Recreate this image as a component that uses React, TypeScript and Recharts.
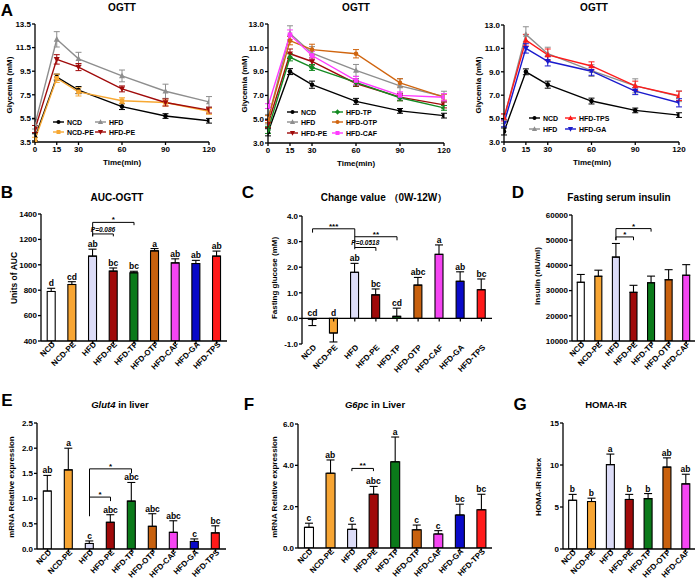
import React from 'react';
import { ComposedChart, Line, Bar, XAxis, YAxis, ErrorBar, ReferenceLine, LabelList, Cell } from 'recharts';

const FONT = '"Liberation Sans", Arial, Helvetica, sans-serif';

// ---------------- Panel A : OGTT ----------------
const timePoints = [0, 15, 30, 60, 90, 120];
const ticksA1 = [3.5, 5.5, 7.5, 9.5, 11.5, 13.5];
const ticksA23 = [3, 5, 7, 9, 11, 13];

const ncdGly = [3.9, 9.0, 7.9, 6.5, 5.7, 5.3];
const ncdGlyErr = [0.3, 0.25, 0.3, 0.25, 0.2, 0.2];
const ncdPeGly = [3.7, 8.9, 7.75, 7.0, 6.85, 6.1];
const ncdPeGlyErr = [0.2, 0.35, 0.35, 0.25, 0.3, 0.25];
const hfdGly = [5.0, 12.2, 10.55, 9.1, 7.8, 6.9];
const hfdGlyErr = [0.4, 0.65, 0.55, 0.5, 0.6, 0.45];
const hfdPeGly = [4.6, 10.5, 9.85, 8.0, 6.85, 6.2];
const hfdPeGlyErr = [0.3, 0.4, 0.3, 0.25, 0.3, 0.25];
const hfdTpGly = [4.1, 10.2, 9.35, 8.1, 6.8, 5.95];
const hfdTpGlyErr = [0.3, 0.3, 0.25, 0.3, 0.25, 0.2];
const hfdOtpGly = [5.0, 11.6, 10.85, 10.5, 8.05, 6.85];
const hfdOtpGlyErr = [0.3, 0.35, 0.45, 0.35, 0.35, 0.25];
const hfdCafGly = [6.1, 12.1, 10.35, 8.25, 7.0, 6.85];
const hfdCafGlyErr = [0.2, 0.4, 0.35, 0.35, 0.3, 0.3];
const hfdTpsGly = [5.1, 11.7, 10.45, 9.5, 7.8, 6.95];
const hfdTpsGlyErr = [0.3, 0.5, 0.5, 0.35, 0.4, 0.4];
const hfdGaGly = [4.6, 11.0, 9.9, 9.05, 7.35, 6.35];
const hfdGaGlyErr = [0.3, 0.4, 0.4, 0.35, 0.3, 0.35];

// ---------------- Bar panels ----------------
const groups9 = ['NCD', 'NCD-PE', 'HFD', 'HFD-PE', 'HFD-TP', 'HFD-OTP', 'HFD-CAF', 'HFD-GA', 'HFD-TPS'];
const groups7 = ['NCD', 'NCD-PE', 'HFD', 'HFD-PE', 'HFD-TP', 'HFD-OTP', 'HFD-CAF'];
const barColors = ['#FFFFFF', '#F7A533', '#DCDCF7', '#A00A0A', '#0B7A1A', '#C8610E', '#F545F2', '#0A0AC8', '#FF1A1A'];

const aucValues = [790, 845, 1068, 950, 937, 1110, 1015, 1010, 1068];
const aucErr = [25, 22, 55, 25, 12, 18, 32, 25, 40];
const aucLetters = ['d', 'cd', 'ab', 'bc', 'bc', 'a', 'ab', 'ab', 'ab'];
const aucTicks = [400, 600, 800, 1000, 1200, 1400];

const changeValues = [-0.03, -0.57, 1.8, 0.92, 0.08, 1.3, 2.5, 1.45, 1.12];
const changeErr = [0.25, 0.35, 0.35, 0.23, 0.32, 0.3, 0.37, 0.37, 0.42];
const changeLetters = ['cd', 'd', 'ab', 'bc', 'cd', 'abc', 'a', 'ab', 'bc'];
const changeTicks = [-1, 0, 1, 2, 3, 4];

const insulinValues = [33300, 35700, 43300, 29300, 33100, 34300, 36100];
const insulinErr = [3100, 2400, 5400, 2800, 2650, 4000, 4200];
const insulinTicks = [10000, 20000, 30000, 40000, 50000, 60000];

const glut4Values = [1.15, 1.57, 0.11, 0.53, 0.95, 0.45, 0.33, 0.15, 0.32];
const glut4Err = [0.31, 0.43, 0.05, 0.15, 0.37, 0.25, 0.23, 0.05, 0.14];
const glut4Letters = ['ab', 'a', 'c', 'abc', 'abc', 'abc', 'abc', 'c', 'bc'];
const glut4Ticks = [0, 0.5, 1, 1.5, 2, 2.5];

const g6pcValues = [1.0, 3.62, 0.9, 2.6, 4.17, 0.88, 0.68, 1.6, 1.85];
const g6pcErr = [0.2, 0.64, 0.25, 0.38, 1.2, 0.23, 0.16, 0.52, 0.75];
const g6pcLetters = ['c', 'ab', 'c', 'abc', 'a', 'c', 'c', 'bc', 'bc'];
const g6pcTicks = [0, 2, 4, 6];

const homaValues = [5.8, 5.65, 10.05, 5.9, 6.0, 9.75, 7.75];
const homaErr = [0.7, 0.4, 1.25, 0.6, 0.6, 1.1, 1.15];
const homaLetters = ['b', 'b', 'a', 'b', 'b', 'ab', 'ab'];
const homaTicks = [0, 5, 10, 15];

type Bracket = { a: string; b: string; y: number; la: number; lb: number; text: string; italicP?: boolean };
const aucBrackets: Bracket[] = [
  { a: 'HFD', b: 'HFD-TP', y: 1334, la: 1224, lb: 1312, text: '*' },
  { a: 'HFD', b: 'HFD-PE', y: 1243, la: 1224, lb: 1224, text: 'P=0.086', italicP: true },
];
const changeBrackets: Bracket[] = [
  { a: 'NCD', b: 'HFD', y: 3.5, la: 3.35, lb: 2.7, text: '***' },
  { a: 'HFD', b: 'HFD-TP', y: 3.19, la: 3.19, lb: 3.05, text: '**' },
  { a: 'HFD', b: 'HFD-PE', y: 2.77, la: 2.77, lb: 2.64, text: 'P=0.0518', italicP: true },
];
const insulinBrackets: Bracket[] = [
  { a: 'HFD', b: 'HFD-TP', y: 54600, la: 50000, lb: 53400, text: '*' },
  { a: 'HFD', b: 'HFD-PE', y: 51300, la: 50000, lb: 50000, text: '*' },
];
const glut4Brackets: Bracket[] = [
  { a: 'HFD', b: 'HFD-TP', y: 1.59, la: 0.65, lb: 1.5, text: '*' },
  { a: 'HFD', b: 'HFD-PE', y: 1.03, la: 1.03, lb: 0.95, text: '*' },
];
const g6pcBrackets: Bracket[] = [
  { a: 'HFD', b: 'HFD-PE', y: 3.85, la: 3.72, lb: 3.72, text: '**' },
];

// ---------------- helpers ----------------
type Frame = { x0: number; y0: number; x1: number; y1: number };
const PADL = 60, PADT = 14, PADR = 8;

const tickStyle = { fontSize: 8, fontWeight: 700, fill: '#000', fontFamily: FONT };

function Marker({ cx, cy, shape, color, s = 2.3 }: any) {
  if (cx == null || cy == null) return null;
  if (shape === 'circle') return <circle cx={cx} cy={cy} r={s} fill={color} />;
  if (shape === 'square') return <rect x={cx - s} y={cy - s} width={2 * s} height={2 * s} fill={color} />;
  if (shape === 'up') return <polygon points={`${cx},${cy - s * 1.4} ${cx - s * 1.3},${cy + s} ${cx + s * 1.3},${cy + s}`} fill={color} />;
  if (shape === 'down') return <polygon points={`${cx},${cy + s * 1.4} ${cx - s * 1.3},${cy - s} ${cx + s * 1.3},${cy - s}`} fill={color} />;
  return <polygon points={`${cx},${cy - s * 1.4} ${cx + s * 1.3},${cy} ${cx},${cy + s * 1.4} ${cx - s * 1.3},${cy}`} fill={color} />;
}

function T({ x, y, children, size = 8, rotate = 0, italic = false, weight = 700, anchor = 'center' }: any) {
  const tx = anchor === 'center' ? '-50%' : '0';
  return (
    <div
      style={{
        position: 'absolute', left: x, top: y, whiteSpace: 'nowrap', fontFamily: FONT, fontSize: size,
        fontWeight: weight, fontStyle: italic ? 'italic' : 'normal', lineHeight: 1, color: '#000',
        transform: `translate(${tx},-50%) rotate(${rotate}deg)`, transformOrigin: anchor === 'center' ? 'center' : 'left center',
      }}
    >
      {children}
    </div>
  );
}

type Series = { key: string; name: string; values: number[]; errs: number[]; color: string; shape: string };

const S_NCD: Series = { key: 'ncd', name: 'NCD', values: ncdGly, errs: ncdGlyErr, color: '#000000', shape: 'circle' };
const S_NCDPE: Series = { key: 'ncdpe', name: 'NCD-PE', values: ncdPeGly, errs: ncdPeGlyErr, color: '#F7A833', shape: 'square' };
const S_HFD: Series = { key: 'hfd', name: 'HFD', values: hfdGly, errs: hfdGlyErr, color: '#8E8E8E', shape: 'up' };
const S_HFDPE: Series = { key: 'hfdpe', name: 'HFD-PE', values: hfdPeGly, errs: hfdPeGlyErr, color: '#A00A0A', shape: 'down' };
const S_TP: Series = { key: 'tp', name: 'HFD-TP', values: hfdTpGly, errs: hfdTpGlyErr, color: '#138A22', shape: 'diamond' };
const S_OTP: Series = { key: 'otp', name: 'HFD-OTP', values: hfdOtpGly, errs: hfdOtpGlyErr, color: '#D0650F', shape: 'circle' };
const S_CAF: Series = { key: 'caf', name: 'HFD-CAF', values: hfdCafGly, errs: hfdCafGlyErr, color: '#FF3BFF', shape: 'square' };
const S_TPS: Series = { key: 'tps', name: 'HFD-TPS', values: hfdTpsGly, errs: hfdTpsGlyErr, color: '#FF1A1A', shape: 'up' };
const S_GA: Series = { key: 'ga', name: 'HFD-GA', values: hfdGaGly, errs: hfdGaGlyErr, color: '#1A1ACC', shape: 'down' };

function LinePanel({ f, series, domain, ticks, legend }: { f: Frame; series: Series[]; domain: [number, number]; ticks: number[]; legend: { s: Series; x: number; y: number }[] }) {
  const rows = timePoints.map((t, i) => {
    const r: any = { t };
    series.forEach((s) => { r[s.key] = s.values[i]; r[s.key + '_e'] = s.errs[i]; });
    return r;
  });
  const xh = 16;
  const w = f.x1 - f.x0 + PADL + PADR;
  const h = f.y1 - f.y0 + PADT + xh;
  return (
    <>
      <div style={{ position: 'absolute', left: f.x0 - PADL, top: f.y0 - PADT }}>
        <ComposedChart width={w} height={h} data={rows} margin={{ top: PADT, right: PADR, left: 0, bottom: 0 }}>
          <XAxis dataKey="t" type="number" domain={[0, 120]} ticks={timePoints} allowDataOverflow height={xh}
            stroke="#000" strokeWidth={1.3} tickSize={3} tickMargin={1} tick={tickStyle} interval={0} />
          <YAxis type="number" domain={domain} ticks={ticks} allowDataOverflow width={PADL} stroke="#000" strokeWidth={1.3}
            tickSize={3} tickMargin={1} tick={tickStyle} interval={0} tickFormatter={(v: number) => v.toFixed(1)} />
          {series.map((s) => (
            <Line key={s.key} dataKey={s.key} stroke={s.color} strokeWidth={1.4} isAnimationActive={false}
              dot={(p: any) => <Marker key={`${s.key}-${p.index}`} cx={p.cx} cy={p.cy} shape={s.shape} color={s.color} />}
              activeDot={false}>
              <ErrorBar dataKey={s.key + '_e'} width={3} stroke={s.color} strokeWidth={1} direction="y" />
            </Line>
          ))}
        </ComposedChart>
      </div>
      {legend.map((l) => (
        <div key={l.s.key} style={{ position: 'absolute', left: l.x, top: l.y - 5, height: 10, display: 'flex', alignItems: 'center' }}>
          <svg width={11} height={8} style={{ display: 'block' }}>
            <line x1={0} y1={4} x2={11} y2={4} stroke={l.s.color} strokeWidth={1.4} />
            <Marker cx={5.5} cy={4} shape={l.s.shape} color={l.s.color} s={2} />
          </svg>
          <span style={{ marginLeft: 3, fontFamily: FONT, fontSize: 7, fontWeight: 700, whiteSpace: 'nowrap' }}>{l.s.name}</span>
        </div>
      ))}
    </>
  );
}

const RotTick = (props: any) => {
  const { x, y, payload } = props;
  return (
    <g transform={`translate(${x},${y})`}>
      <text x={3} y={3} textAnchor="end" transform="rotate(-45)" fontSize={8} fontWeight={700} fontFamily={FONT} fill="#000">
        {payload.value}
      </text>
    </g>
  );
};

const bracketLabel = (text: string, italicP?: boolean) => (props: any) => {
  const vb = props.viewBox || {};
  const cx = (vb.x || 0) + (vb.width || 0) / 2;
  const star = text.startsWith('*');
  const cy = (vb.y || 0) - (star ? 0 : 2);
  return (
    <text x={cx} y={cy} textAnchor="middle" fontSize={star ? 8 : 6.5} fontWeight={700} fontFamily={FONT} fill="#000" fontStyle={italicP ? 'italic' : 'normal'}>
      {text}
    </text>
  );
};

function BarPanel({ f, cats, values, errs, letters, domain, ticks, fmt, brackets, zeroAxis }: any) {
  const rows = cats.map((c: string, i: number) => ({
    cat: c,
    v: values[i],
    e: values[i] >= 0 ? [0, errs[i]] : [errs[i], 0],
    ly: letters ? (values[i] >= 0 ? values[i] + errs[i] : 0) : null,
    lt: letters ? letters[i] : '',
  }));
  const xh = 42;
  const w = f.x1 - f.x0 + PADL + PADR;
  const h = f.y1 - f.y0 + PADT + xh;
  const tickLen = (domain[1] - domain[0]) * 3 / (f.y1 - f.y0);
  const els: any[] = [];
  (brackets || []).forEach((b: Bracket, i: number) => {
    els.push(<ReferenceLine key={`bh${i}`} segment={[{ x: b.a, y: b.y }, { x: b.b, y: b.y }]} stroke="#000" strokeWidth={1} ifOverflow="visible"
      label={bracketLabel(b.text, b.italicP)} />);
    if (b.la !== b.y) els.push(<ReferenceLine key={`bl${i}`} segment={[{ x: b.a, y: b.y }, { x: b.a, y: b.la }]} stroke="#000" strokeWidth={1} ifOverflow="visible" />);
    if (b.lb !== b.y) els.push(<ReferenceLine key={`br${i}`} segment={[{ x: b.b, y: b.y }, { x: b.b, y: b.lb }]} stroke="#000" strokeWidth={1} ifOverflow="visible" />);
  });
  return (
    <div style={{ position: 'absolute', left: f.x0 - PADL, top: f.y0 - PADT }}>
      <ComposedChart width={w} height={h} data={rows} margin={{ top: PADT, right: PADR, left: 0, bottom: 0 }} barCategoryGap="30%">
        <XAxis dataKey="cat" type="category" height={xh} interval={0} stroke="#000" strokeWidth={1.3}
          axisLine={!zeroAxis} tickLine={!zeroAxis} tickSize={3} tickMargin={1} tick={<RotTick />} />
        <YAxis type="number" domain={domain} ticks={ticks} allowDataOverflow width={PADL} stroke="#000" strokeWidth={1.3}
          tickSize={3} tickMargin={1} tick={tickStyle} interval={0} tickFormatter={fmt} />
        <Bar dataKey="v" stroke="#000" strokeWidth={1.1} isAnimationActive={false}>
          {rows.map((r: any, i: number) => <Cell key={r.cat} fill={barColors[i]} />)}
          <ErrorBar dataKey="e" width={4} stroke="#000" strokeWidth={1.1} direction="y" />
        </Bar>
        {zeroAxis && <ReferenceLine y={0} stroke="#000" strokeWidth={1.3} />}
        {zeroAxis && cats.map((c: string) => (
          <ReferenceLine key={`zt${c}`} segment={[{ x: c, y: 0 }, { x: c, y: -tickLen }]} stroke="#000" strokeWidth={1.2} />
        ))}
        {letters && (
          <Line dataKey="ly" stroke="none" dot={false} activeDot={false} isAnimationActive={false}>
            <LabelList dataKey="lt" position="top" offset={2} fontSize={8.5} fontWeight={700} fontFamily={FONT} fill="#000" />
          </Line>
        )}
        {els}
      </ComposedChart>
    </div>
  );
}

const fmt1 = (v: number) => v.toFixed(1);
const fmt0 = (v: number) => String(v);

export default function App() {
  const A1: Frame = { x0: 35, y0: 24, x1: 209, y1: 142 };
  const A2: Frame = { x0: 268, y0: 24, x1: 444, y1: 143 };
  const A3: Frame = { x0: 504, y0: 25, x1: 679, y1: 142 };
  const B: Frame = { x0: 41, y0: 214, x1: 227, y1: 341 };
  const C: Frame = { x0: 302, y0: 216, x1: 492, y1: 344 };
  const D: Frame = { x0: 572, y0: 215, x1: 695, y1: 341 };
  const E: Frame = { x0: 37, y0: 423, x1: 226, y1: 549 };
  const F: Frame = { x0: 298, y0: 424, x1: 492, y1: 548 };
  const G: Frame = { x0: 563, y0: 423, x1: 695, y1: 549 };

  return (
    <div style={{ position: 'absolute', left: 0, top: 0, width: 696, height: 584, overflow: 'hidden', background: '#fff' }}>
      {/* Panel letters */}
      <T x={7} y={10} size={17}>A</T>
      <T x={7} y={192} size={17}>B</T>
      <T x={248} y={192} size={17}>C</T>
      <T x={518} y={192} size={17}>D</T>
      <T x={7} y={400} size={17}>E</T>
      <T x={249} y={404} size={17}>F</T>
      <T x={520} y={404} size={17}>G</T>

      {/* Titles */}
      <T x={122} y={8} size={10}>OGTT</T>
      <T x={356} y={8} size={10}>OGTT</T>
      <T x={594} y={8} size={10}>OGTT</T>
      <T x={117} y={198} size={10}>AUC-OGTT</T>
      <T x={384} y={198} size={10}>Change value （0W-12W）</T>
      <T x={619} y={198} size={10}>Fasting serum insulin</T>
      <T x={120} y={405} size={9.5}><i>Glut4</i> in liver</T>
      <T x={375} y={405} size={9.5}><i>G6pc</i> in Liver</T>
      <T x={606} y={405} size={9.5}>HOMA-IR</T>

      {/* Axis titles */}
      <T x={10} y={85} size={8} rotate={-90}>Glycemia (mM)</T>
      <T x={245} y={84} size={8} rotate={-90}>Glycemia (mM)</T>
      <T x={479} y={85} size={8} rotate={-90}>Glycemia (mM)</T>
      <T x={122} y={163} size={8}>Time(min)</T>
      <T x={356} y={164} size={8}>Time(min)</T>
      <T x={592} y={163} size={8}>Time(min)</T>
      <T x={14} y={278} size={8.5} rotate={-90}>Units of AUC</T>
      <T x={275} y={278} size={8} rotate={-90}>Fasting glucose (mM)</T>
      <T x={538} y={276} size={8} rotate={-90}>Insulin (nIU/ml)</T>
      <T x={12} y={487} size={8} rotate={-90}>mRNA Relative expression</T>
      <T x={275} y={487} size={8} rotate={-90}>mRNA Relative expression</T>
      <T x={539} y={487} size={8} rotate={-90}>HOMA-IR index</T>

      <LinePanel f={A1} series={[S_NCD, S_NCDPE, S_HFD, S_HFDPE]} domain={[3.5, 13.5]} ticks={ticksA1}
        legend={[{ s: S_NCD, x: 53, y: 122 }, { s: S_HFD, x: 95, y: 122 }, { s: S_NCDPE, x: 53, y: 132 }, { s: S_HFDPE, x: 95, y: 132 }]} />
      <LinePanel f={A2} series={[S_NCD, S_HFD, S_HFDPE, S_TP, S_OTP, S_CAF]} domain={[3, 13]} ticks={ticksA23}
        legend={[{ s: S_NCD, x: 287, y: 112 }, { s: S_HFD, x: 287, y: 122 }, { s: S_HFDPE, x: 287, y: 133 },
          { s: S_TP, x: 332, y: 112 }, { s: S_OTP, x: 332, y: 122 }, { s: S_CAF, x: 332, y: 133 }]} />
      <LinePanel f={A3} series={[S_NCD, S_HFD, S_TPS, S_GA]} domain={[3, 13]} ticks={ticksA23}
        legend={[{ s: S_NCD, x: 529, y: 118 }, { s: S_HFD, x: 529, y: 129 }, { s: S_TPS, x: 565, y: 118 }, { s: S_GA, x: 565, y: 129 }]} />

      <BarPanel f={B} cats={groups9} values={aucValues} errs={aucErr} letters={aucLetters} domain={[400, 1400]} ticks={aucTicks} fmt={fmt0} brackets={aucBrackets} />
      <BarPanel f={C} cats={groups9} values={changeValues} errs={changeErr} letters={changeLetters} domain={[-1, 4]} ticks={changeTicks} fmt={fmt1} brackets={changeBrackets} zeroAxis />
      <BarPanel f={D} cats={groups7} values={insulinValues} errs={insulinErr} domain={[10000, 60000]} ticks={insulinTicks} fmt={fmt0} brackets={insulinBrackets} />
      <BarPanel f={E} cats={groups9} values={glut4Values} errs={glut4Err} letters={glut4Letters} domain={[0, 2.5]} ticks={glut4Ticks} fmt={fmt1} brackets={glut4Brackets} />
      <BarPanel f={F} cats={groups9} values={g6pcValues} errs={g6pcErr} letters={g6pcLetters} domain={[0, 6]} ticks={g6pcTicks} fmt={fmt1} brackets={g6pcBrackets} />
      <BarPanel f={G} cats={groups7} values={homaValues} errs={homaErr} letters={homaLetters} domain={[0, 15]} ticks={homaTicks} fmt={fmt0} />
    </div>
  );
}
